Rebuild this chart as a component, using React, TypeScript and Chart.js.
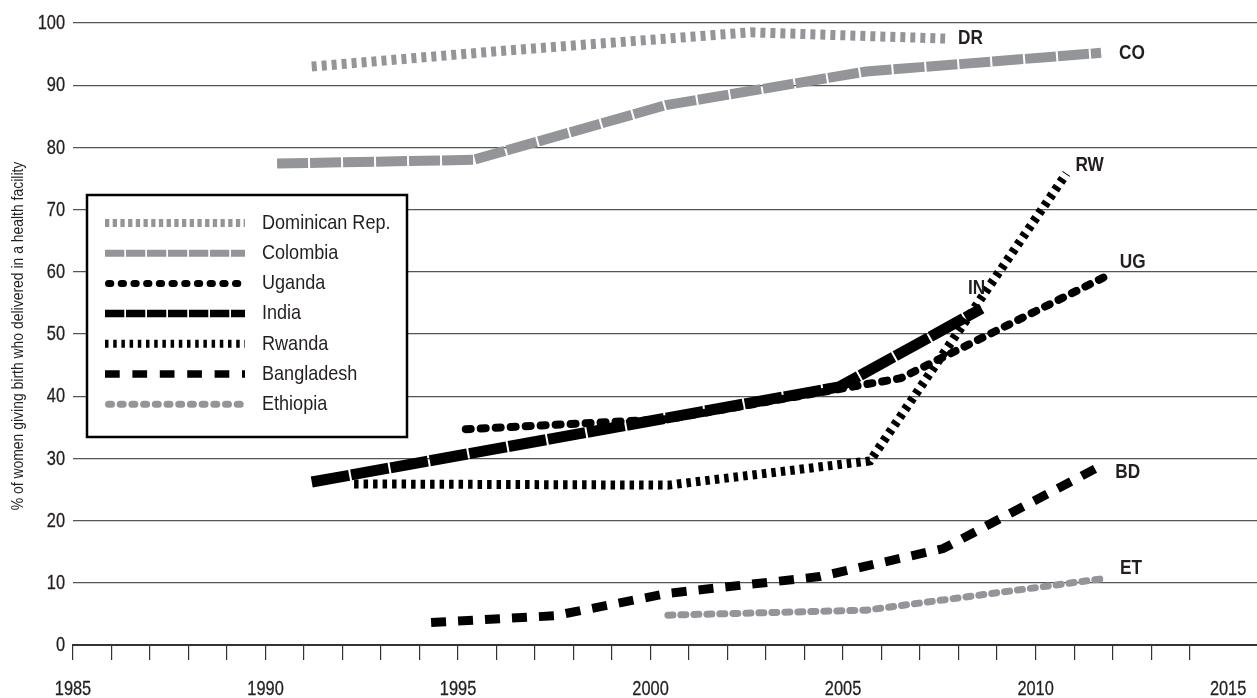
import React, { useEffect, useRef } from "react";
import { Chart, registerables } from "chart.js";

Chart.register(...registerables);

// ---------- data ----------
const seriesNames = ["Dominican Rep.", "Colombia", "Uganda", "India", "Rwanda", "Bangladesh", "Ethiopia"];
const seriesCodes = ["DR", "CO", "UG", "IN", "RW", "BD", "ET"];

const drYears = [1991.2, 1996.3, 2002.6, 2007.65];
const drValues = [93.0, 95.6, 98.5, 97.5];

const coYears = [1990.3, 1995.4, 2000.4, 2005.6, 2011.7];
const coValues = [77.4, 78.0, 86.8, 92.2, 95.2];

const ugYears = [1995.2, 2000.45, 2006.5, 2011.9];
const ugValues = [34.7, 36.3, 42.9, 59.5];

const inYears = [1991.2, 2004.9, 2008.6];
const inValues = [26.2, 41.5, 54.1];

const rwYears = [1992.3, 2000.45, 2005.7, 2010.8];
const rwValues = [25.9, 25.7, 29.6, 75.8];

const bdYears = [1994.3, 1997.5, 2000.45, 2004.4, 2007.6, 2011.6];
const bdValues = [3.6, 4.7, 8.3, 11.0, 15.5, 28.5];

const etYears = [2000.45, 2005.6, 2011.8];
const etValues = [4.8, 5.6, 10.7];

const xLabelYears = [1985, 1990, 1995, 2000, 2005, 2010, 2015];
const yTickValues = [0, 10, 20, 30, 40, 50, 60, 70, 80, 90, 100];

const yTitle = "% of women giving birth who delivered in a health facility";

// ---------- styles ----------
const FONT = '"Liberation Sans", Arial, sans-serif';
const GREY = "#939598";
const BLACK = "#000000";
const TEXT = "#231f20";

const lineStyles = [
  { color: GREY, width: 10, dash: [5, 5], cap: "butt" },
  { color: GREY, width: 10, dash: [31, 2], cap: "butt" },
  { color: BLACK, width: 8, dash: [5, 10], cap: "round" },
  { color: BLACK, width: 11, dash: [38, 2], cap: "butt" },
  { color: BLACK, width: 9, dash: [4.5, 5], cap: "butt" },
  { color: BLACK, width: 9, dash: [15, 12], cap: "butt" },
  { color: GREY, width: 7, dash: [5, 8], cap: "round" },
];

const legendStyles = [
  { width: 8, dash: [4.3, 3.4], cap: "butt" },
  { width: 7, dash: [19.3, 1.7], cap: "butt" },
  { width: 7, dash: [2.3, 10.4], cap: "round" },
  { width: 7.5, dash: [19.3, 1.7], cap: "butt" },
  { width: 8, dash: [3.5, 4.7], cap: "butt" },
  { width: 7.5, dash: [14.7, 12.7], cap: "butt" },
  { width: 7, dash: [3, 8.7], cap: "round" },
];

// offsets of the end labels relative to the last point of each series
const labelOffsets = [
  { dx: 13, dy: 0, align: "left" },
  { dx: 18, dy: 0, align: "left" },
  { dx: 11, dy: -13, align: "left" },
  { dx: -5, dy: -20, align: "center" },
  { dx: 9, dy: -8, align: "left" },
  { dx: 18, dy: 4, align: "left" },
  { dx: 15, dy: -10, align: "left" },
];

const legendBox = { left: 87, top: 195, right: 407, bottom: 437, firstRow: 223, rowGap: 30.2, swatchFrom: 105, swatchTo: 245, textX: 262 };

function toPoints(xs: number[], ys: number[]) {
  return xs.map((x, i) => ({ x, y: ys[i] }));
}

const seriesData = [
  toPoints(drYears, drValues),
  toPoints(coYears, coValues),
  toPoints(ugYears, ugValues),
  toPoints(inYears, inValues),
  toPoints(rwYears, rwValues),
  toPoints(bdYears, bdValues),
  toPoints(etYears, etValues),
];

// condensed text: a regular face squeezed horizontally
function narrowText(
  ctx: CanvasRenderingContext2D,
  text: string,
  x: number,
  y: number,
  font: string,
  align: CanvasTextAlign,
  sx: number,
  rotate = 0,
  weight = 0
) {
  ctx.save();
  ctx.translate(x, y);
  if (rotate) ctx.rotate(rotate);
  ctx.scale(sx, 1);
  ctx.font = font;
  ctx.fillStyle = TEXT;
  ctx.textAlign = align;
  ctx.textBaseline = "middle";
  ctx.fillText(text, 0, 0);
  if (weight > 0) {
    ctx.strokeStyle = TEXT;
    ctx.lineWidth = weight;
    ctx.strokeText(text, 0, 0);
  }
  ctx.restore();
}

const overlayPlugin = {
  id: "overlay",
  afterDatasetsDraw(chart: any) {
    const ctx = chart.ctx as CanvasRenderingContext2D;
    const xs = chart.scales.x;
    const ys = chart.scales.y;

    // end labels
    chart.data.datasets.forEach((ds: any, i: number) => {
      const last = ds.data[ds.data.length - 1];
      const px = xs.getPixelForValue(last.x);
      const py = ys.getPixelForValue(last.y);
      const off = labelOffsets[i];
      narrowText(ctx, seriesCodes[i], px + off.dx, py + off.dy, `bold 21px ${FONT}`, off.align as CanvasTextAlign, 0.82);
    });

    // legend
    const b = legendBox;
    ctx.save();
    ctx.fillStyle = "#fff";
    ctx.fillRect(b.left, b.top, b.right - b.left, b.bottom - b.top);
    ctx.strokeStyle = "#000";
    ctx.lineWidth = 2.5;
    ctx.strokeRect(b.left, b.top, b.right - b.left, b.bottom - b.top);
    seriesNames.forEach((name, i) => {
      const y = b.firstRow + i * b.rowGap;
      const ls = legendStyles[i];
      ctx.beginPath();
      ctx.setLineDash(ls.dash);
      ctx.lineDashOffset = 0;
      ctx.lineCap = ls.cap as CanvasLineCap;
      ctx.lineWidth = ls.width;
      ctx.strokeStyle = lineStyles[i].color;
      const inset = ls.cap === "round" ? ls.width / 2 : 0;
      ctx.moveTo(b.swatchFrom + inset, y);
      ctx.lineTo(b.swatchTo - inset, y);
      ctx.stroke();
      ctx.setLineDash([]);
      narrowText(ctx, name, b.textX, y, `21px ${FONT}`, "left", 0.86);
    });
    ctx.restore();
  },
  afterDraw(chart: any) {
    const ctx = chart.ctx as CanvasRenderingContext2D;
    const xs = chart.scales.x;
    const ys = chart.scales.y;
    const ca = chart.chartArea;

    // x tick labels
    xLabelYears.forEach((yr) => {
      narrowText(ctx, String(yr), xs.getPixelForValue(yr), ca.bottom + 44, `21px ${FONT}`, "center", 0.78, 0, 0.3);
    });
    // y tick labels
    yTickValues.forEach((v) => {
      narrowText(ctx, String(v), ca.left - 8, ys.getPixelForValue(v) + 0.5, `21px ${FONT}`, "right", 0.78, 0, 0.3);
    });
    // y axis title
    narrowText(ctx, yTitle, 18, (ca.top + ca.bottom) / 2 + 2, `17px ${FONT}`, "center", 0.82, -Math.PI / 2);
  },
};

export default function App() {
  const canvasRef = useRef<HTMLCanvasElement | null>(null);

  useEffect(() => {
    document.body.style.margin = "0";
    const canvas = canvasRef.current;
    if (!canvas) return;
    const chart = new Chart(canvas, {
      type: "line",
      data: {
        datasets: seriesData.map((pts, i) => ({
          label: seriesNames[i],
          data: pts,
          borderColor: lineStyles[i].color,
          backgroundColor: lineStyles[i].color,
          borderWidth: lineStyles[i].width,
          borderDash: lineStyles[i].dash,
          borderCapStyle: lineStyles[i].cap as CanvasLineCap,
          borderJoinStyle: "miter",
          pointRadius: 0,
          tension: 0,
          fill: false,
        })),
      },
      options: {
        animation: false,
        responsive: false,
        devicePixelRatio: 1,
        layout: { padding: { top: 23, right: 0, left: 0, bottom: 0 } },
        plugins: { legend: { display: false }, tooltip: { enabled: false } },
        scales: {
          x: {
            type: "linear",
            min: 1985,
            max: 2015.75,
            afterFit: (s: any) => {
              s.height = 53;
            },
            afterBuildTicks: (s: any) => {
              s.ticks = s.ticks.filter((t: any) => Number.isInteger(t.value));
            },
            ticks: {
              stepSize: 1,
              autoSkip: false,
              maxRotation: 0,
              color: "rgba(0,0,0,0)",
              font: { family: FONT, size: 12 },
              callback: () => "",
            },
            grid: {
              drawOnChartArea: false,
              drawTicks: true,
              tickLength: 15,
              color: "#333",
              lineWidth: 1.2,
            },
            border: { display: true, color: "#333", width: 2 },
          },
          y: {
            type: "linear",
            min: 0,
            max: 100,
            afterFit: (s: any) => {
              s.width = 73;
            },
            afterBuildTicks: (s: any) => {
              s.ticks = yTickValues.map((v) => ({ value: v }));
            },
            ticks: {
              stepSize: 10,
              color: "rgba(0,0,0,0)",
              font: { family: FONT, size: 12 },
              callback: () => "",
            },
            grid: {
              drawTicks: false,
              color: (c: any) => (c.tick && c.tick.value === 0 ? "rgba(0,0,0,0)" : "#555"),
              lineWidth: 1.3,
            },
            border: { display: false },
          },
        },
      },
      plugins: [overlayPlugin],
    });
    return () => chart.destroy();
  }, []);

  return (
    <div style={{ position: "absolute", left: 0, top: 0, width: 1257, height: 698, background: "#fff" }}>
      <canvas ref={canvasRef} width={1257} height={698} style={{ display: "block", width: 1257, height: 698 }} />
    </div>
  );
}
